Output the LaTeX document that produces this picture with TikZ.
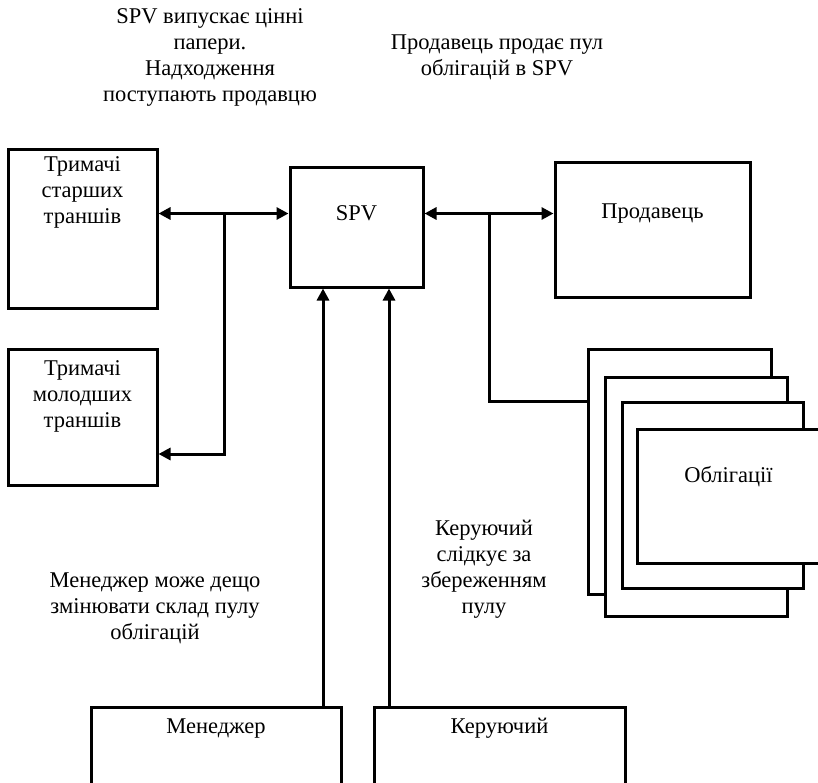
\documentclass[tikz,border=0pt]{standalone}
\usepackage{fontspec}
\setmainfont{Liberation Serif}
\usetikzlibrary{arrows.meta,positioning}

\begin{document}
\begin{tikzpicture}[x=1pt,y=-1pt,
    >={Triangle[length=12pt,width=12pt]},
    box/.style={draw,line width=3pt,fill=white,inner sep=0pt},
    txt/.style={align=center,inner sep=0pt,font=\fontsize{22.5}{26}\selectfont},
    link/.style={line width=3pt},
    arr/.style={link,->},
    darr/.style={link,<->}]
  \clip (0,0) rectangle (818,782);
  % boxes
  \begin{scope}[every node/.style={box}]
    \node[minimum width=149pt,minimum height=159pt] (senior) at (82.5,228.5) {};
    \node[minimum width=149pt,minimum height=136pt] (junior) at (82.5,417) {};
    \node[minimum width=133pt,minimum height=120pt] (spv) at (356.5,227) {};
    \node[minimum width=195pt,minimum height=135pt] (seller) at (652.5,229.5) {};
    \node[minimum width=183pt,minimum height=245pt] (bond1) at (679.5,471.5) {};
    \node[minimum width=182pt,minimum height=239pt] (bond2) at (696,496.5) {};
    \node[minimum width=181pt,minimum height=186pt] (bond3) at (712.5,495) {};
    \node[minimum width=183pt,minimum height=134pt] (bond4) at (728.5,496) {};
    \node[minimum width=250pt,minimum height=93pt] (mgr) at (216,753.5) {};
    \node[minimum width=251pt,minimum height=93pt] (ker) at (499.5,753.5) {};
  \end{scope}
  % box texts
  \begin{scope}[every node/.style={txt}]
    \node (seniort) at ([yshift=-45pt]senior.north) {Тримачі\\старших\\траншів};
    \node (juniort) at ([yshift=-49pt]junior.north) {Тримачі\\молодших\\траншів};
    \node (spvt) at ([yshift=-48pt]spv.north) {SPV};
    \node (sellert) at ([yshift=-53pt]seller.north) {Продавець};
    \node (bondt) at ([yshift=-49pt]bond4.north) {Облігації};
    \node (mgrt) at ([yshift=-23pt]mgr.north) {Менеджер};
    \node (kert) at ([yshift=-23pt]ker.north) {Керуючий};
  \end{scope}
  % notes
  \begin{scope}[every node/.style={txt}]
    \node (issue) at (210,57) {SPV випускає цінні\\папери.\\Надходження\\поступають продавцю};
    \node (sale) at (497,57) {Продавець продає пул\\облігацій в SPV};
    \node (change) at (155,608) {Менеджер може дещо\\змінювати склад пулу\\облігацій};
    \node (watch) at (484,569) {Керуючий\\слідкує за\\збереженням\\пулу};
  \end{scope}
  % connectors
  \coordinate (lj) at (224,215);
  \coordinate (rj) at (489,215);
  \draw[darr] (senior.east |- spvt) -- (spv.west |- spvt);
  \draw[arr] (lj) |- ([yshift=-37pt]junior.east);
  \draw[darr] (spv.east |- spvt) -- (seller.west |- spvt);
  \draw[link] (rj) |- ([yshift=70.5pt]bond1.west);
  \draw[arr] ([xshift=107pt]mgr.north) -- ([xshift=107pt]mgr.north |- spv.south);
  \draw[arr] ([xshift=-110.5pt]ker.north) -- ([xshift=-110.5pt]ker.north |- spv.south);
\end{tikzpicture}
\end{document}
